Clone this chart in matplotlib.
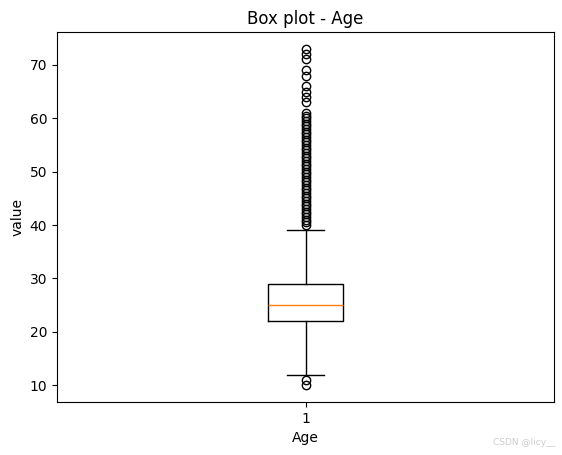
import matplotlib
matplotlib.use("Agg")
import matplotlib.pyplot as plt

# box statistics
q1 = 22
med = 25
q3 = 29
whis_lo = 12
whis_hi = 39
low_fliers = [10, 11]
# dense column: whole and half years from 40 to 61
dense_fliers = [40, 40.5, 41, 41.5, 42, 42.5, 43, 43.5, 44, 44.5, 45, 45.5,
                46, 46.5, 47, 47.5, 48, 48.5, 49, 49.5, 50, 50.5, 51, 51.5,
                52, 52.5, 53, 53.5, 54, 54.5, 55, 55.5, 56, 56.5, 57, 57.5,
                58, 58.5, 59, 59.5, 60, 60.5, 61]
sparse_fliers = [63, 64, 65, 66, 68, 69, 71, 72, 73]

stats = [{
    "label": "1",
    "med": med,
    "q1": q1,
    "q3": q3,
    "whislo": whis_lo,
    "whishi": whis_hi,
    "fliers": low_fliers + dense_fliers + sparse_fliers,
}]

fig = plt.figure(figsize=(5.62, 4.55), dpi=100)
ax = fig.add_axes([57/562, 53/455, 497/562, 370/455])

ax.bxp(stats)

ax.set_title("Box plot - Age")
ax.set_xlabel("Age")
ax.set_ylabel("value")

fig.text(0.988, 0.018, "CSDN @licy__", ha="right", va="bottom",
         fontsize=6.5, color="#cccccc")

plt.savefig("out.png", dpi=100)
